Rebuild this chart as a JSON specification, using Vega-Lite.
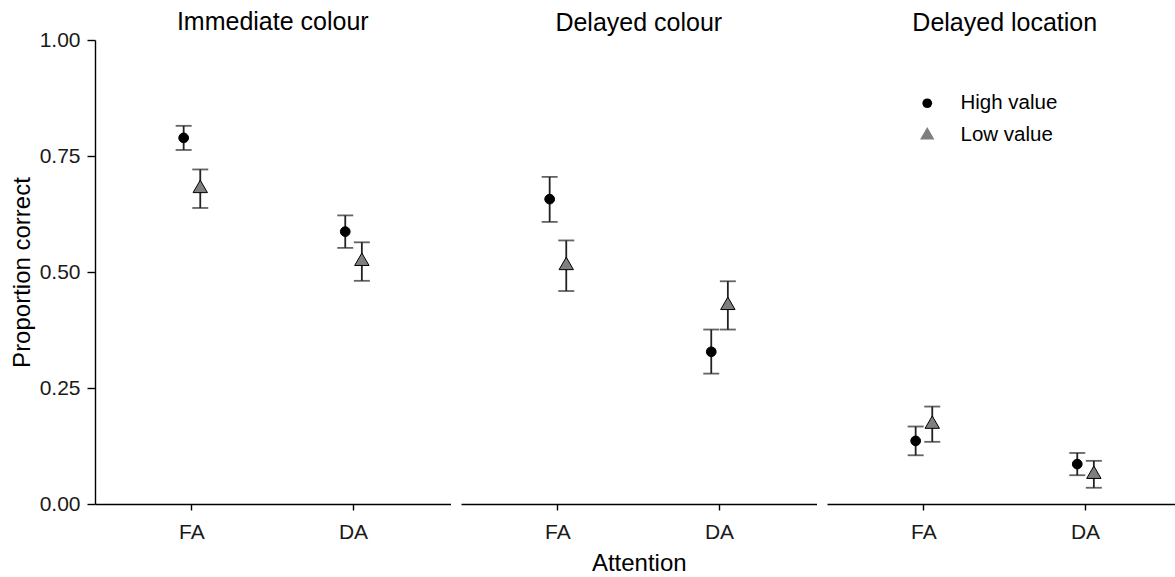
{
  "$schema": "https://vega.github.io/schema/vega-lite/v6.json",
  "background": "white",
  "padding": {"left": 10, "top": 10, "right": 0, "bottom": 0},
  "config": {
    "font": "Liberation Sans",
    "view": {"stroke": null},
    "axis": {"grid": false, "domainColor": "#000", "tickColor": "#000", "domainWidth": 1.4, "tickWidth": 1.4, "labelColor": "#1a1a1a", "labelFontSize": 21, "titleFontSize": 24, "titleFontWeight": "normal", "titleColor": "#000", "labelFont": "Liberation Sans", "titleFont": "Liberation Sans"},
    "title": {"fontSize": 25, "fontWeight": "normal", "color": "#000", "font": "Liberation Sans", "offset": 4, "anchor": "middle"}
  },
  "datasets": {
    "d": [
      {"task": "Immediate colour", "attention": "FA", "group": "High value", "mean": 0.789, "lo": 0.763, "hi": 0.815},
      {"task": "Immediate colour", "attention": "FA", "group": "Low value", "mean": 0.680, "lo": 0.638, "hi": 0.721},
      {"task": "Immediate colour", "attention": "DA", "group": "High value", "mean": 0.587, "lo": 0.552, "hi": 0.622},
      {"task": "Immediate colour", "attention": "DA", "group": "Low value", "mean": 0.523, "lo": 0.481, "hi": 0.564},
      {"task": "Delayed colour", "attention": "FA", "group": "High value", "mean": 0.657, "lo": 0.608, "hi": 0.705},
      {"task": "Delayed colour", "attention": "FA", "group": "Low value", "mean": 0.514, "lo": 0.459, "hi": 0.568},
      {"task": "Delayed colour", "attention": "DA", "group": "High value", "mean": 0.328, "lo": 0.281, "hi": 0.376},
      {"task": "Delayed colour", "attention": "DA", "group": "Low value", "mean": 0.428, "lo": 0.376, "hi": 0.480},
      {"task": "Delayed location", "attention": "FA", "group": "High value", "mean": 0.136, "lo": 0.105, "hi": 0.167},
      {"task": "Delayed location", "attention": "FA", "group": "Low value", "mean": 0.172, "lo": 0.134, "hi": 0.210},
      {"task": "Delayed location", "attention": "DA", "group": "High value", "mean": 0.086, "lo": 0.062, "hi": 0.110},
      {"task": "Delayed location", "attention": "DA", "group": "Low value", "mean": 0.064, "lo": 0.035, "hi": 0.093}
    ]
  },
  "data": {"name": "d"},
  "spacing": 10,
  "resolve": {"scale": {"x": "independent", "y": "independent", "shape": "independent", "fill": "independent", "xOffset": "independent"}},
  "hconcat": [
    {
      "width": 355.5, "height": 464,
      "title": {"text": "Immediate colour", "offset": -6},
      "transform": [{"filter": {"field": "task", "equal": "Immediate colour"}}],
      "encoding": {
        "x": {"field": "attention", "type": "nominal", "sort": ["FA", "DA"], "scale": {"type": "band", "paddingInner": 0, "paddingOuter": 0.1}, "axis": {"title": null, "labelAngle": 0, "tickSize": 6, "labelPadding": 11}},
        "xOffset": {"field": "group", "type": "nominal", "scale": {"domain": ["High value", "Low value"], "range": [64.2, 97.4]}}
      },
      "layer": [
        {"mark": {"type": "rule", "color": "#222", "strokeWidth": 1.8},
         "encoding": {"y": {"field": "lo", "type": "quantitative", "scale": {"domain": [0, 1], "nice": false}, "axis": {"title": "Proportion correct", "values": [0, 0.25, 0.5, 0.75, 1], "format": ".2f", "tickSize": 8, "labelPadding": 7, "titlePadding": 5}}, "y2": {"field": "hi"}}},
        {"mark": {"type": "tick", "color": "#222", "thickness": 1.8, "size": 16, "orient": "horizontal"},
         "encoding": {"y": {"field": "lo", "type": "quantitative"}}},
        {"mark": {"type": "tick", "color": "#222", "thickness": 1.8, "size": 16, "orient": "horizontal"},
         "encoding": {"y": {"field": "hi", "type": "quantitative"}}},
        {"mark": {"type": "point", "filled": true, "opacity": 1, "stroke": "#000", "strokeWidth": 1, "size": 95},
         "encoding": {
           "y": {"field": "mean", "type": "quantitative"},
           "shape": {"field": "group", "type": "nominal", "scale": {"domain": ["High value", "Low value"], "range": ["circle", "M0,-1.70L1.476,0.85L-1.476,0.85Z"]}, "legend": null},
           "fill": {"field": "group", "type": "nominal", "scale": {"domain": ["High value", "Low value"], "range": ["#000000", "#7f7f7f"]}, "legend": null}
         }}
      ]
    },
    {
      "width": 355.5, "height": 464,
      "title": {"text": "Delayed colour"},
      "transform": [{"filter": {"field": "task", "equal": "Delayed colour"}}],
      "encoding": {
        "x": {"field": "attention", "type": "nominal", "sort": ["FA", "DA"], "scale": {"type": "band", "paddingInner": 0, "paddingOuter": 0.1}, "axis": {"title": "Attention", "labelAngle": 0, "tickSize": 6, "labelPadding": 11, "titlePadding": 9}},
        "xOffset": {"field": "group", "type": "nominal", "scale": {"domain": ["High value", "Low value"], "range": [64.2, 97.4]}}
      },
      "layer": [
        {"mark": {"type": "rule", "color": "#222", "strokeWidth": 1.8},
         "encoding": {"y": {"field": "lo", "type": "quantitative", "scale": {"domain": [0, 1], "nice": false}, "axis": null}, "y2": {"field": "hi"}}},
        {"mark": {"type": "tick", "color": "#222", "thickness": 1.8, "size": 16, "orient": "horizontal"},
         "encoding": {"y": {"field": "lo", "type": "quantitative"}}},
        {"mark": {"type": "tick", "color": "#222", "thickness": 1.8, "size": 16, "orient": "horizontal"},
         "encoding": {"y": {"field": "hi", "type": "quantitative"}}},
        {"mark": {"type": "point", "filled": true, "opacity": 1, "stroke": "#000", "strokeWidth": 1, "size": 95},
         "encoding": {
           "y": {"field": "mean", "type": "quantitative"},
           "shape": {"field": "group", "type": "nominal", "scale": {"domain": ["High value", "Low value"], "range": ["circle", "M0,-1.70L1.476,0.85L-1.476,0.85Z"]}, "legend": null},
           "fill": {"field": "group", "type": "nominal", "scale": {"domain": ["High value", "Low value"], "range": ["#000000", "#7f7f7f"]}, "legend": null}
         }}
      ]
    },
    {
      "width": 355.5, "height": 464,
      "title": {"text": "Delayed location"},
      "transform": [{"filter": {"field": "task", "equal": "Delayed location"}}],
      "encoding": {
        "x": {"field": "attention", "type": "nominal", "sort": ["FA", "DA"], "scale": {"type": "band", "paddingInner": 0, "paddingOuter": 0.1}, "axis": {"title": null, "labelAngle": 0, "tickSize": 6, "labelPadding": 11}},
        "xOffset": {"field": "group", "type": "nominal", "scale": {"domain": ["High value", "Low value"], "range": [64.2, 97.4]}}
      },
      "layer": [
        {"mark": {"type": "rule", "color": "#222", "strokeWidth": 1.8},
         "encoding": {"y": {"field": "lo", "type": "quantitative", "scale": {"domain": [0, 1], "nice": false}, "axis": null}, "y2": {"field": "hi"}}},
        {"mark": {"type": "tick", "color": "#222", "thickness": 1.8, "size": 16, "orient": "horizontal"},
         "encoding": {"y": {"field": "lo", "type": "quantitative"}}},
        {"mark": {"type": "tick", "color": "#222", "thickness": 1.8, "size": 16, "orient": "horizontal"},
         "encoding": {"y": {"field": "hi", "type": "quantitative"}}},
        {"mark": {"type": "point", "filled": true, "opacity": 1, "stroke": "#000", "strokeWidth": 1, "size": 95},
         "encoding": {
           "y": {"field": "mean", "type": "quantitative"},
           "shape": {"field": "group", "type": "nominal", "scale": {"domain": ["High value", "Low value"], "range": ["circle", "M0,-1.70L1.476,0.85L-1.476,0.85Z"]}, "legend": {"title": null, "orient": "none", "legendX": 90, "legendY": 53, "labelFontSize": 20.5, "labelColor": "#000", "labelOffset": 23, "rowPadding": 10, "symbolSize": 95, "symbolStrokeColor": "#000", "symbolStrokeWidth": 1}},
           "fill": {"field": "group", "type": "nominal", "scale": {"domain": ["High value", "Low value"], "range": ["#000000", "#7f7f7f"]}, "legend": {"title": null, "orient": "none", "legendX": 90, "legendY": 53, "labelFontSize": 20.5, "labelColor": "#000", "labelOffset": 23, "rowPadding": 10, "symbolSize": 95, "symbolStrokeColor": "#000", "symbolStrokeWidth": 1}}
         }}
      ]
    }
  ]
}
